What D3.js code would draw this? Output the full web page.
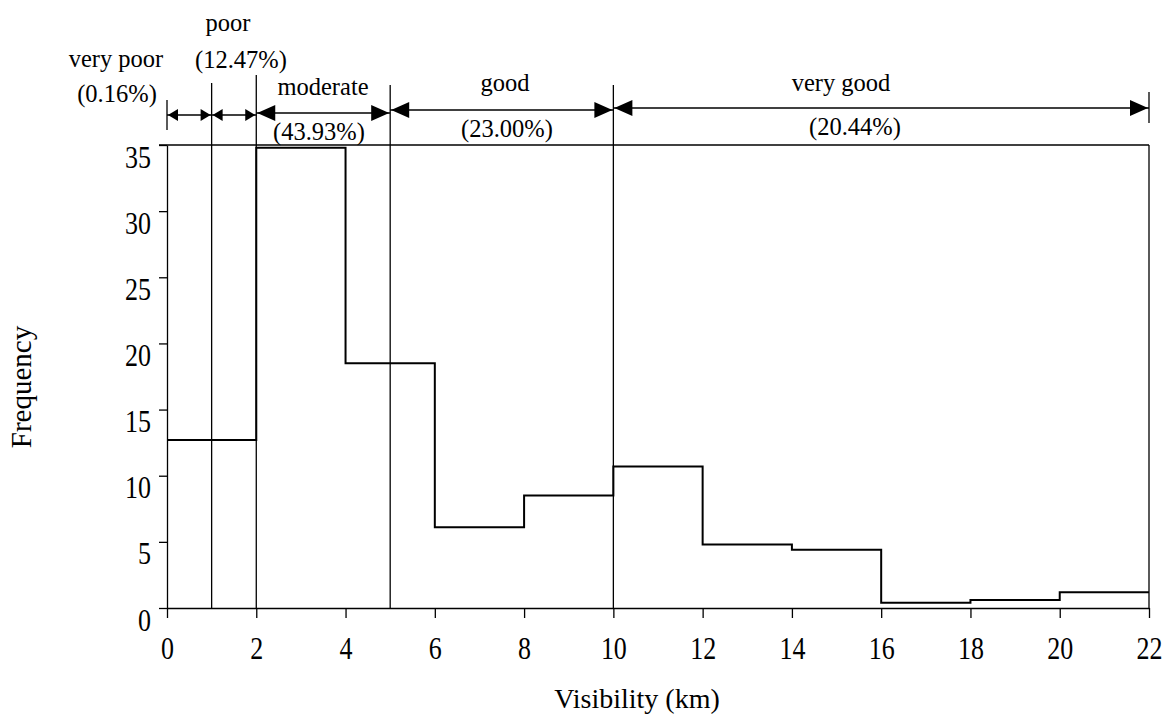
<!DOCTYPE html>
<html>
<head>
<meta charset="utf-8">
<script src="https://cdn.jsdelivr.net/npm/d3@7/dist/d3.min.js"></script>
<style>
  html, body { margin: 0; padding: 0; background: #fff; }
  svg text { font-family: "Liberation Serif", "Times New Roman", serif; fill: #000; }
</style>
</head>
<body>
<svg id="chart" width="1164" height="717"></svg>
<script>
// ---- data ----
const binEdges = [0, 2, 4, 6, 8, 10, 12, 14, 16, 18, 20, 22];
const frequency = [12.7, 34.8, 18.5, 6.1, 8.5, 10.7, 4.8, 4.4, 0.4, 0.6, 1.2];
const xTicks = [0, 2, 4, 6, 8, 10, 12, 14, 16, 18, 20, 22];
const yTicks = [0, 5, 10, 15, 20, 25, 30, 35];
const classNames = ["very poor", "poor", "moderate", "good", "very good"];
const classPercents = ["(0.16%)", "(12.47%)", "(43.93%)", "(23.00%)", "(20.44%)"];
const classBounds = [0, 1, 2, 5, 10, 22];

const FONT = "'Liberation Serif', 'Times New Roman', serif";
const svg = d3.select("#chart");
const x = d3.scaleLinear().domain([0, 22]).range([167, 1149]);
const y = d3.scaleLinear().domain([0, 35]).range([608, 145]);

const black = "#000";

// frame: top and right
svg.append("line").attr("x1", x(0) - 8).attr("x2", x(22)).attr("y1", y(35)).attr("y2", y(35))
  .attr("stroke", black).attr("stroke-width", 1.3);
svg.append("line").attr("x1", x(22)).attr("x2", x(22)).attr("y1", y(35)).attr("y2", y(0))
  .attr("stroke", black).attr("stroke-width", 1.3);

// axes
const xAxis = d3.axisBottom(x).tickValues(xTicks).tickSize(10).tickSizeOuter(0);
const gx = svg.append("g").attr("transform", `translate(0,${y(0)})`).call(xAxis);
gx.attr("font-family", FONT);
gx.selectAll("text").style("font-size", "26px").style("font-family", FONT)
  .attr("y", 0).attr("dy", 0).attr("transform", "translate(0,51) scale(1,1.2)");
gx.selectAll("line, path").attr("stroke", black).attr("stroke-width", 1.3);

const yAxis = d3.axisLeft(y).tickValues(yTicks).tickSize(8).tickSizeOuter(0);
const gy = svg.append("g").attr("transform", `translate(${x(0)},0)`).call(yAxis);
gy.attr("font-family", FONT);
gy.selectAll("text").style("font-size", "26px").style("font-family", FONT)
  .attr("x", 0).attr("dy", 0).attr("transform", "translate(-16,22) scale(1,1.2)");
gy.selectAll("line, path").attr("stroke", black).attr("stroke-width", 1.3);

// histogram step outline
const stepPts = [];
frequency.forEach((f, i) => {
  stepPts.push([binEdges[i], f]);
  stepPts.push([binEdges[i + 1], f]);
});
const line = d3.line().x(d => x(d[0])).y(d => y(d[1]));
svg.append("path").attr("d", line(stepPts)).attr("fill", "none")
  .attr("stroke", black).attr("stroke-width", 2);

// class boundary lines
const boundTop = [100, 83, 75, 85, 85, 92];
classBounds.forEach((b, i) => {
  const bottom = (i === 0) ? 130 : (i === classBounds.length - 1 ? 123 : y(0));
  svg.append("line").attr("x1", x(b)).attr("x2", x(b)).attr("y1", boundTop[i]).attr("y2", bottom)
    .attr("stroke", black).attr("stroke-width", 1.3);
});

// arrows
const arrowY = [115, 115, 113, 110, 108];
const headL = [10, 10, 18, 18, 18];
const headH = [6, 6, 8, 8, 8];
function tri(tipX, yy, dir, L, H) {
  const bx = tipX - dir * L;
  return `M${tipX},${yy}L${bx},${yy - H}L${bx},${yy + H}Z`;
}
for (let i = 0; i < classNames.length; i++) {
  const x0 = x(classBounds[i]), x1 = x(classBounds[i + 1]);
  const yy = arrowY[i];
  svg.append("line").attr("x1", x0).attr("x2", x1).attr("y1", yy).attr("y2", yy)
    .attr("stroke", black).attr("stroke-width", 1.3);
  svg.append("path").attr("d", tri(x0 + 1, yy, -1, headL[i], headH[i])).attr("fill", black);
  svg.append("path").attr("d", tri(x1 - 1, yy, 1, headL[i], headH[i])).attr("fill", black);
}

// class labels
const nameX = [116, 228, 323, 505, 841];
const nameY = [67, 31, 95, 91, 91];
const pctX = [117, 241, 319, 507, 855];
const pctY = [102, 68, 140, 137, 135];
classNames.forEach((n, i) => {
  svg.append("text").attr("x", nameX[i]).attr("y", nameY[i]).attr("text-anchor", "middle")
    .style("font-family", FONT).style("font-size", "24.5px").text(n);
  svg.append("text").attr("x", pctX[i]).attr("y", pctY[i]).attr("text-anchor", "middle")
    .style("font-family", FONT).style("font-size", "24.5px").text(classPercents[i]);
});

// axis titles
svg.append("text").attr("x", 637).attr("y", 708).attr("text-anchor", "middle")
  .style("font-family", FONT).style("font-size", "28px").text("Visibility (km)");
svg.append("text").attr("transform", "translate(31,387) rotate(-90)").attr("text-anchor", "middle")
  .style("font-family", FONT).style("font-size", "29px").text("Frequency");
</script>
</body>
</html>
